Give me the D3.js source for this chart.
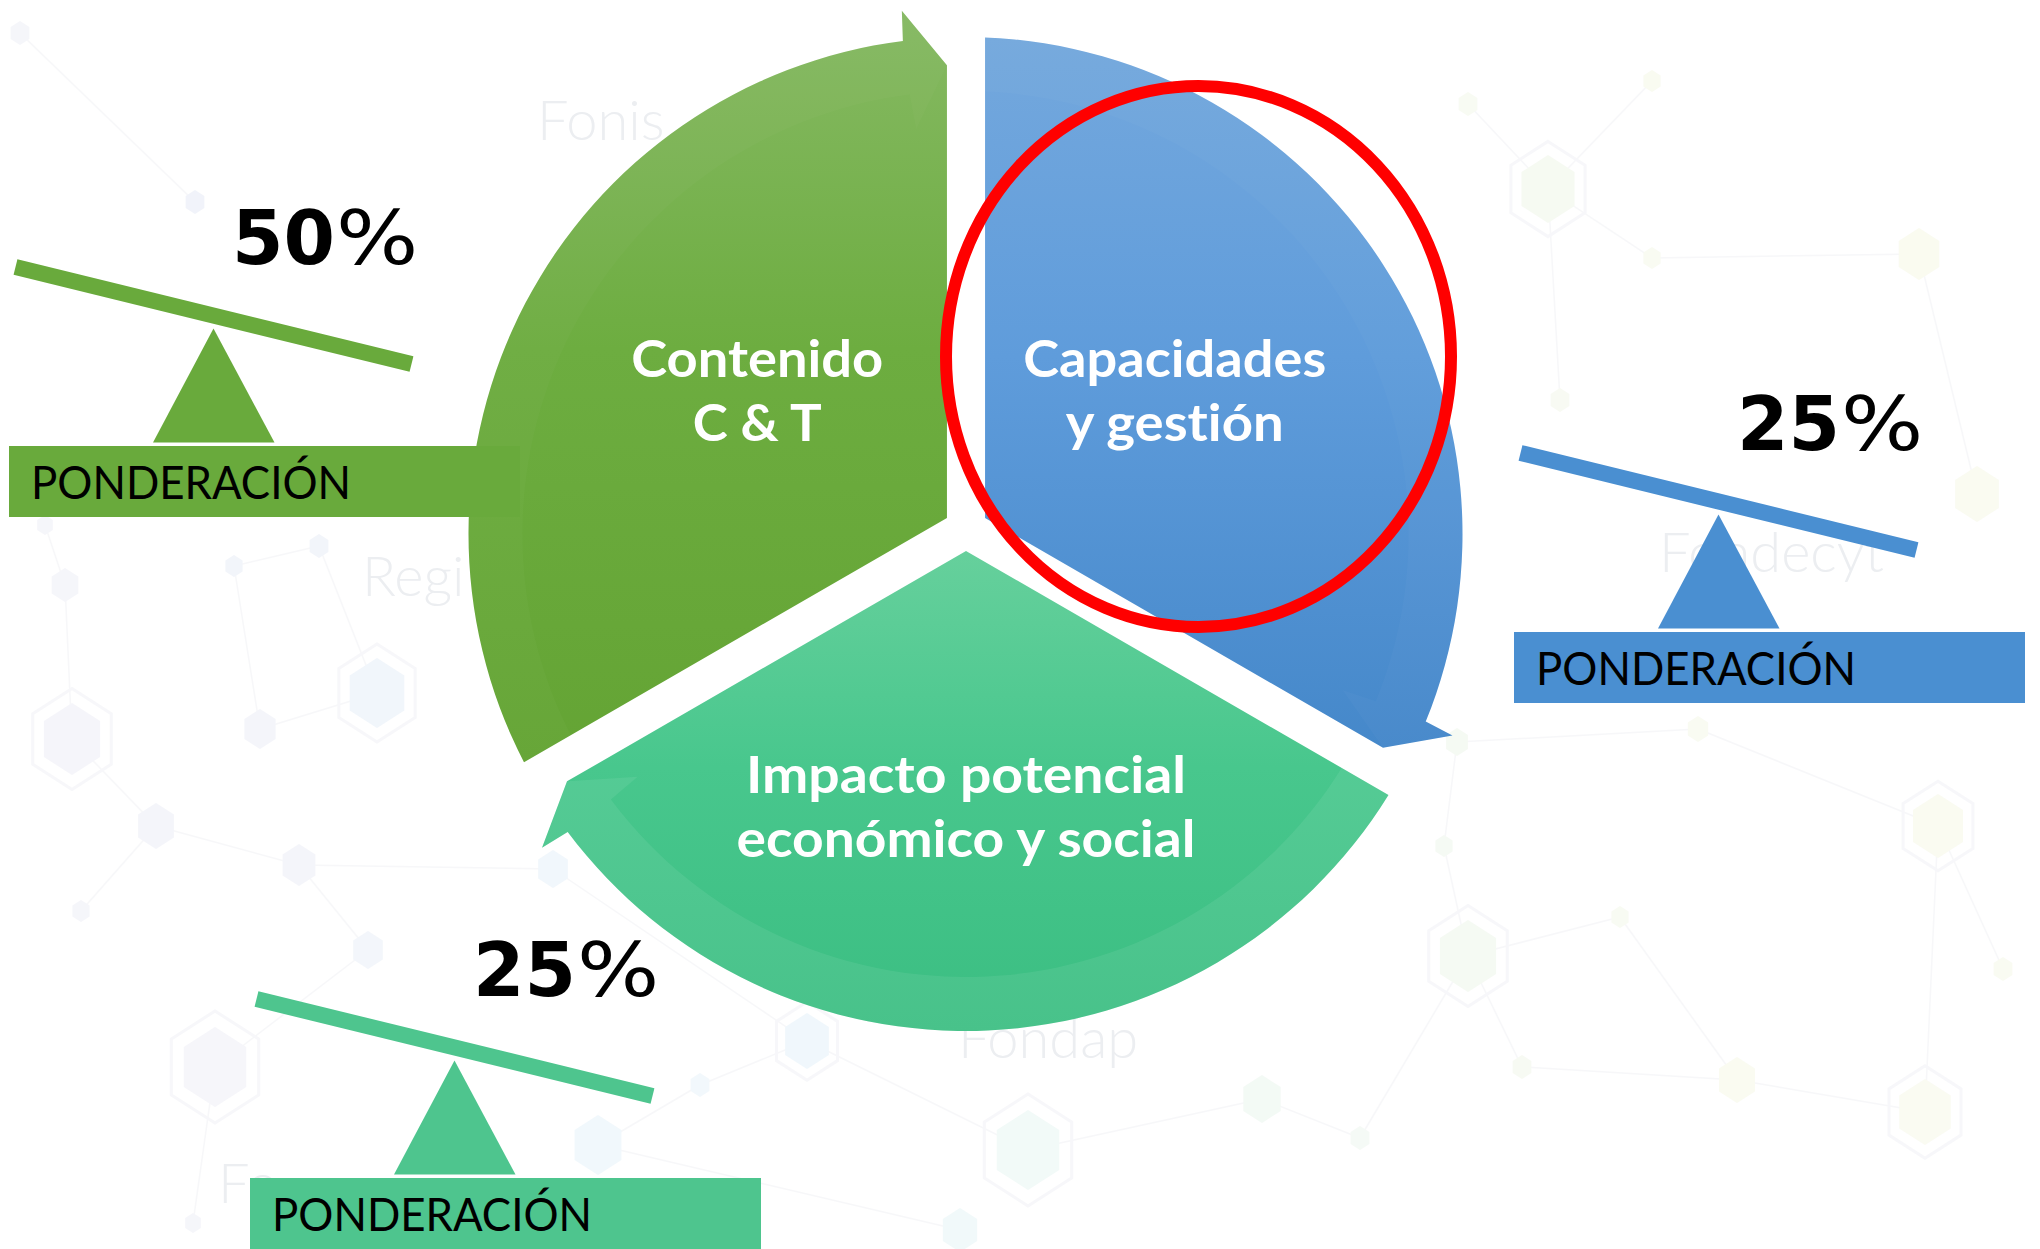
<!DOCTYPE html>
<html lang="es">
<head>
<meta charset="utf-8">
<title>Ponderación</title>
<script src="https://cdn.jsdelivr.net/npm/d3@7"></script>
<style>
  html, body { margin: 0; padding: 0; background: #fff; }
  svg { display: block; }
  text { font-variant-ligatures: none; }
</style>
</head>
<body>
<svg id="chart" width="2040" height="1249"></svg>
<script>
// ---- data ----
const segmentNames = ["Contenido C & T", "Capacidades y gestión", "Impacto potencial económico y social"];
const segmentLines = [["Contenido", "C & T"], ["Capacidades", "y gestión"], ["Impacto potencial", "económico y social"]];
const weights = [50, 25, 25];
const weightTitle = "PONDERACIÓN";
const bgWords = ["Fonis", "Regi", "Fondap", "Fondecyt", "Fo"];

// ---- layout ----
const width = 2040, height = 1249;
const center = [966, 529];                    // where the three gaps meet
const ring = { cx: 965.5, cy: 534, r: 497 };   // outer edge of the cycle
const gap = 22;

const fills = [
  ["#86b963", "#6dad40", "#64a434"],
  ["#74a8dd", "#5f9cdb", "#4588ca"],
  ["#66d09c", "#48c78d", "#3bbe82"]
];
const bandOpacity = [0.025, 0.025, 0.07];
const boxColors = ["#69aa3c", "#4a8fd1", "#4ec58e"];
const boxAnchors = [[9, 446], [1514, 632], [250, 1178]];
const labelRadius = [241, 241, 296];
const lineWidths = [[252, 129], [303, 218], [440, 459]];

// faint background network
const hexes = [
  [72, 739, 36, "#eeeef6", 1], [377, 693, 35, "#e6eff9", 1], [260, 729, 20, "#eceef7", 0],
  [156, 826, 23, "#eceef7", 0], [299, 865, 21, "#eceef7", 0], [215, 1067, 40, "#efeff7", 1],
  [368, 950, 19, "#eaf0f8", 0], [81, 911, 11, "#eeeff7", 0], [195, 202, 12, "#e6ebf6", 0],
  [65, 585, 17, "#eeeff7", 0], [234, 566, 11, "#e9edf7", 0], [319, 546, 12, "#e9edf7", 0],
  [598, 1145, 30, "#e6f3fb", 0], [807, 1041, 28, "#e4f2fb", 1], [553, 869, 19, "#e6f1fa", 0],
  [700, 1085, 12, "#e9f3fa", 0], [193, 1223, 10, "#eeeff7", 0], [1028, 1150, 40, "#e8f6f3", 1],
  [960, 1230, 22, "#e6f5f6", 0], [1262, 1099, 24, "#ebf6ee", 0], [20, 33, 12, "#eef0f7", 0],
  [45, 525, 10, "#eeeff7", 0],
  [1548, 189, 34, "#f0f6e9", 1], [1468, 104, 12, "#f3f8ea", 0], [1652, 81, 11, "#f5f8e6", 0],
  [1652, 258, 11, "#f5f8e8", 0], [1919, 254, 26, "#f6f8e4", 0], [1977, 494, 28, "#f6f8e6", 0],
  [1698, 729, 13, "#f5f8e8", 0], [1457, 742, 14, "#eef6eb", 0], [1468, 956, 36, "#eef6ea", 1],
  [1938, 826, 32, "#f6f8e6", 1], [1620, 917, 11, "#f4f8ea", 0], [1737, 1080, 23, "#f6f9e6", 0],
  [1925, 1112, 33, "#f6f8e8", 1], [1522, 1067, 12, "#f2f7ea", 0], [2003, 969, 12, "#f5f8e8", 0],
  [1360, 1138, 12, "#eef6ef", 0], [1444, 846, 11, "#eef6ec", 0], [1560, 400, 12, "#f3f7ea", 0]
];
const links = [
  [0, 9], [0, 3], [9, 21], [2, 1], [2, 10], [10, 11], [11, 1], [3, 4], [4, 6], [3, 7], [6, 5],
  [5, 16], [4, 14], [14, 13], [13, 15], [15, 12], [12, 18], [13, 17], [17, 19], [19, 37], [8, 20],
  [23, 22], [22, 24], [22, 25], [22, 39], [25, 26], [26, 27], [29, 28], [29, 38], [38, 30],
  [30, 32], [32, 33], [33, 34], [31, 34], [31, 36], [30, 35], [35, 33], [37, 30], [28, 31]
];
const wordSpots = [[537, 140], [362, 596], [958, 1058], [1659, 572], [218, 1203]];

const svg = d3.select("#chart");
svg.append("rect").attr("width", width).attr("height", height).attr("fill", "#fff");

// ---- background ----
const bg = svg.append("g").attr("opacity", 0.55);
bg.selectAll("line").data(links).join("line")
  .attr("x1", d => hexes[d[0]][0]).attr("y1", d => hexes[d[0]][1])
  .attr("x2", d => hexes[d[1]][0]).attr("y2", d => hexes[d[1]][1])
  .attr("stroke", "#f1f2f5").attr("stroke-width", 1.5);

const hexLine = d3.line();
const hexPts = (x, y, r) => d3.range(6).map(k => {
  const a = Math.PI / 3 * k;
  return [x + r * 0.9 * Math.sin(a), y - r * Math.cos(a)];
});
bg.selectAll("path.ringhex").data(hexes.filter(h => h[4])).join("path")
  .attr("d", d => hexLine(hexPts(d[0], d[1], d[2] * 1.4)) + "Z")
  .attr("fill", "none").attr("stroke", "#f1f2f6").attr("stroke-width", 3);
bg.selectAll("path.hex").data(hexes).join("path")
  .attr("d", d => hexLine(hexPts(d[0], d[1], d[2])) + "Z")
  .attr("fill", d => d[3]);

svg.append("g").selectAll("text").data(bgWords).join("text")
  .attr("x", (d, i) => wordSpots[i][0]).attr("y", (d, i) => wordSpots[i][1])
  .attr("font-family", "Lato, sans-serif").attr("font-weight", 300)
  .attr("font-size", 56).attr("fill", "#eceef1")
  .text(d => d);

// ---- cycle geometry ----
const angle = d3.scaleLinear().domain([0, segmentNames.length]).range([240, 600]);
const rad = d => d * Math.PI / 180;
const dir = t => [Math.sin(rad(t)), -Math.cos(rad(t))];
const polar = (r, t) => [ring.cx + r * dir(t)[0], ring.cy + r * dir(t)[1]];
const along = (p, t, len) => [p[0] + len * dir(t)[0], p[1] + len * dir(t)[1]];

// distance from p, along clock angle t, to the outer ring
function hitRing(p, t) {
  const u = dir(t), ox = p[0] - ring.cx, oy = p[1] - ring.cy;
  const b = ox * u[0] + oy * u[1];
  return -b + Math.sqrt(b * b - (ox * ox + oy * oy - ring.r * ring.r));
}
function clockOf(p, near) {
  let t = Math.atan2(p[0] - ring.cx, -(p[1] - ring.cy)) * 180 / Math.PI;
  while (t < near - 180) t += 360;
  while (t > near + 180) t -= 360;
  return t;
}

const segs = segmentNames.map((name, i) => {
  const s = angle(i), e = angle(i + 1), m = (s + e) / 2;
  const v = along(center, m, gap);
  const t1 = hitRing(v, e);
  const p0 = along(v, s, hitRing(v, s));
  const p1 = along(v, e, t1);
  const a0 = clockOf(p0, s), ae = clockOf(p1, e) - 5.1;
  return { name, i, s, e, m, v, p0, a0, ae, tip: along(v, e, t1 - 28) };
});

function segPath(g) {
  const p = d3.path();
  p.moveTo(...g.v);
  p.lineTo(...g.p0);
  p.arc(ring.cx, ring.cy, ring.r, rad(g.a0 - 90), rad(g.ae - 90));
  p.lineTo(...polar(ring.r + 30, g.ae + 0.3));
  p.lineTo(...g.tip);
  p.closePath();
  return p.toString();
}
// the lighter circular arrow laid along the outer edge
function bandPath(g) {
  const p = d3.path(), rin = ring.r - 54, b = g.a0 - 4;
  p.moveTo(...polar(ring.r + 3, b));
  p.arc(ring.cx, ring.cy, ring.r + 3, rad(b - 90), rad(g.ae - 90));
  p.lineTo(...polar(ring.r + 30, g.ae + 0.3));
  p.lineTo(...g.tip);
  p.lineTo(...polar(ring.r - 89, g.ae + 0.3));
  p.lineTo(...polar(rin, g.ae));
  p.arc(ring.cx, ring.cy, rin, rad(g.ae - 90), rad(b - 90), true);
  p.closePath();
  return p.toString();
}

const defs = svg.append("defs");
segs.forEach(g => {
  const grad = defs.append("linearGradient").attr("id", "fill" + g.i)
    .attr("x1", 0).attr("y1", 0).attr("x2", 0).attr("y2", 1);
  [0, 0.45, 1].forEach((o, k) => grad.append("stop").attr("offset", o).attr("stop-color", fills[g.i][k]));
  defs.append("clipPath").attr("id", "clip" + g.i).append("path").attr("d", segPath(g));
});

const cycle = svg.append("g");
const segG = cycle.selectAll("g").data(segs).join("g");
segG.append("path").attr("d", segPath).attr("fill", d => `url(#fill${d.i})`);
segG.append("path").attr("d", bandPath)
  .attr("clip-path", d => `url(#clip${d.i})`)
  .attr("fill", "#fff").attr("fill-opacity", d => bandOpacity[d.i]);

// labels in each segment
segG.each(function (g) {
  const c = along(center, g.m, labelRadius[g.i]);
  d3.select(this).selectAll("text").data(segmentLines[g.i]).join("text")
    .attr("x", c[0]).attr("y", (d, k) => c[1] - 32 + k * 64)
    .attr("text-anchor", "middle")
    .attr("font-family", "Lato, 'Open Sans', sans-serif").attr("font-weight", 700)
    .attr("font-size", 51).attr("fill", "#fff")
    .attr("textLength", (d, k) => lineWidths[g.i][k]).attr("lengthAdjust", "spacingAndGlyphs")
    .text(d => d);
});

// ---- weight balances ----
const bal = svg.selectAll("g.balance").data(weights).join("g")
  .attr("class", "balance")
  .attr("transform", (d, i) => `translate(${boxAnchors[i][0]},${boxAnchors[i][1]})`);

bal.append("line")
  .attr("x1", 6.5).attr("y1", -179).attr("x2", 402.5).attr("y2", -82)
  .attr("stroke", (d, i) => boxColors[i]).attr("stroke-width", 16);
bal.append("path")
  .attr("d", "M204.5,-117.5L265.5,-3.5L144,-3.5Z")
  .attr("fill", (d, i) => boxColors[i]);
bal.append("rect").attr("width", 511).attr("height", 71)
  .attr("fill", (d, i) => boxColors[i]);
bal.append("text").attr("x", 22).attr("y", 53)
  .attr("font-family", "Lato, 'Open Sans', sans-serif").attr("font-size", 46)
  .attr("fill", "#000").attr("textLength", 320).attr("lengthAdjust", "spacingAndGlyphs")
  .text(weightTitle);

bal.each(function (w) {
  const g = d3.select(this);
  const num = g.append("text").attr("x", 223).attr("y", -182)
    .attr("font-family", "'DejaVu Sans', Verdana, sans-serif").attr("font-weight", 700)
    .attr("font-size", 74).attr("fill", "#000")
    .text(w);
  const end = 223 + num.node().getComputedTextLength();
  g.append("text").attr("transform", `translate(${end + 1},-182) scale(1.17,1)`)
    .attr("font-family", "'DejaVu Sans', Verdana, sans-serif")
    .attr("font-size", 74).attr("fill", "#000")
    .text("%");
});

// ---- highlight on "Capacidades y gestión" ----
svg.append("ellipse")
  .attr("cx", 1198.5).attr("cy", 356.5).attr("rx", 252.5).attr("ry", 270.5)
  .attr("fill", "none").attr("stroke", "#ff0000").attr("stroke-width", 12);
</script>
</body>
</html>
